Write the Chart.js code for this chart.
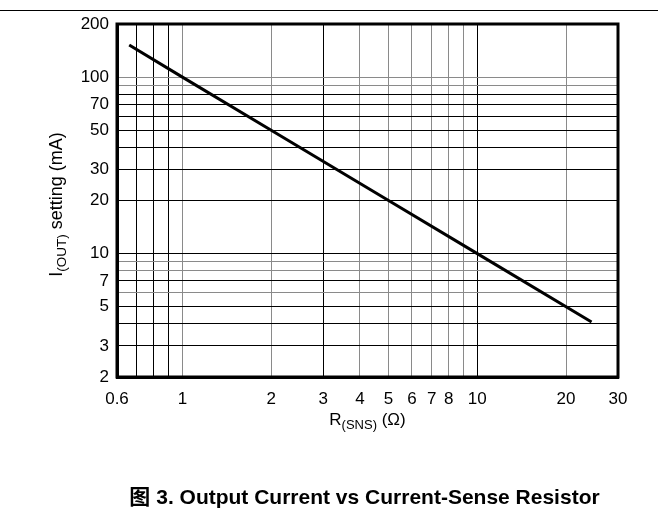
<!DOCTYPE html>
<html lang="zh">
<head>
    <meta charset="UTF-8">
    <title>Output Current vs Current-Sense Resistor</title>
    <script src="https://cdn.jsdelivr.net/npm/chart.js"></script>
    <style>
        html, body {
            margin: 0;
            padding: 0;
            background: #ffffff;
        }
        #wrap {
            width: 661px;
            height: 515px;
        }
    </style>
</head>
<body>
    <div id="wrap">
        <canvas id="currentChart" width="661" height="515"></canvas>
    </div>

    <script>
        // data: I(OUT) = f(R(SNS))
        const rSns = [0.66, 1, 2, 5, 10, 24.4];
        const iOut = [152, 100, 50, 20, 10, 4.1];

        // grid lines and labelled ticks
        const xGrid = [0.6, 0.7, 0.8, 0.9, 1, 2, 3, 4, 5, 6, 7, 8, 9, 10, 20, 30];
        const xLabels = [0.6, 1, 2, 3, 4, 5, 6, 7, 8, 10, 20, 30];
        const yGrid = [2, 3, 4, 5, 6, 7, 8, 9, 10, 20, 30, 40, 50, 60, 70, 80, 90, 100, 200];
        const yLabels = [2, 3, 5, 7, 10, 20, 30, 50, 70, 100, 200];

        // the scan shows some grid lines lighter than others
        const xGray = [1, 2, 4, 5, 6, 7, 8, 9, 20];
        const yGray = [6, 8, 9, 90, 100];

        const FONT = "'Liberation Sans', Arial, Helvetica, sans-serif";

        function gridColor(grayList) {
            return (ctx) => {
                const v = ctx.tick ? ctx.tick.value : null;
                return grayList.some(g => Math.abs(g - v) < 1e-6) ? '#8a8a8a' : '#000000';
            };
        }

        // text with a subscript, drawn on the canvas
        function drawSubText(ctx, parts, x, y, align) {
            let total = 0;
            parts.forEach(p => {
                ctx.font = p.font;
                p.w = ctx.measureText(p.text).width;
                total += p.w;
            });
            let cx = align === 'center' ? x - total / 2 : x;
            parts.forEach(p => {
                ctx.font = p.font;
                ctx.fillText(p.text, cx, y + (p.dy || 0));
                cx += p.w;
            });
        }

        // thick frame round the plot
        const frame = {
            id: 'frame',
            afterDatasetsDraw(chart) {
                const c = chart.ctx;
                const a = chart.chartArea;
                c.save();
                c.strokeStyle = '#000';
                c.lineWidth = 3;
                c.strokeRect(a.left, a.top, a.right - a.left, a.bottom - a.top);
                c.restore();
            }
        };

        // titles, caption and the page rule
        const extras = {
            id: 'extras',
            afterDraw(chart) {
                const ctx = chart.ctx;
                const area = chart.chartArea;
                const mid = (area.left + area.right) / 2;
                ctx.save();
                ctx.fillStyle = '#000';
                ctx.textAlign = 'left';
                ctx.textBaseline = 'alphabetic';

                ctx.strokeStyle = '#000';
                ctx.lineWidth = 1;
                ctx.beginPath();
                ctx.moveTo(0, 10.5);
                ctx.lineTo(658, 10.5);
                ctx.stroke();

                // x title
                drawSubText(ctx, [
                    { text: 'R', font: '17px ' + FONT },
                    { text: '(SNS)', font: '13px ' + FONT, dy: 4 },
                    { text: ' (Ω)', font: '17px ' + FONT }
                ], mid, 425, 'center');

                // y title
                ctx.save();
                ctx.translate(62, (area.top + area.bottom) / 2 + 4);
                ctx.rotate(-Math.PI / 2);
                drawSubText(ctx, [
                    { text: 'I', font: '18px ' + FONT },
                    { text: '(OUT)', font: '13.5px ' + FONT, dy: 4 },
                    { text: ' setting (mA)', font: '18px ' + FONT }
                ], 0, 0, 'center');
                ctx.restore();

                // caption
                ctx.textAlign = 'center';
                ctx.font = "bold 21px 'Liberation Sans', Arial, 'Noto Sans CJK SC', sans-serif";
                ctx.fillText('图 3. Output Current vs Current-Sense Resistor', mid - 3, 504);
                ctx.restore();
            }
        };

        const ctx1 = document.getElementById('currentChart').getContext('2d');
        const currentChart = new Chart(ctx1, {
            type: 'line',
            data: {
                datasets: [{
                    label: 'I(OUT)',
                    data: rSns.map((r, i) => ({ x: r, y: iOut[i] })),
                    borderColor: '#000000',
                    borderWidth: 3,
                    pointRadius: 0,
                    fill: false,
                    tension: 0
                }]
            },
            options: {
                responsive: false,
                animation: false,
                layout: {
                    padding: { left: 0, right: 43, top: 24, bottom: 0 }
                },
                plugins: {
                    legend: { display: false },
                    tooltip: { enabled: false }
                },
                scales: {
                    x: {
                        type: 'logarithmic',
                        min: 0.6,
                        max: 30,
                        afterBuildTicks: (axis) => {
                            axis.ticks = xGrid.map(v => ({ value: v }));
                        },
                        afterFit: (axis) => { axis.height = 138; },
                        border: { display: true, color: '#000', width: 3 },
                        grid: {
                            color: gridColor(xGray),
                            lineWidth: 1,
                            drawTicks: false
                        },
                        ticks: {
                            autoSkip: false,
                            maxRotation: 0,
                            padding: 12,
                            color: '#000',
                            font: { family: FONT, size: 17 },
                            callback: (v) => xLabels.includes(v) ? String(v) : ''
                        }
                    },
                    y: {
                        type: 'logarithmic',
                        min: 2,
                        max: 200,
                        afterBuildTicks: (axis) => {
                            axis.ticks = yGrid.map(v => ({ value: v }));
                        },
                        afterFit: (axis) => { axis.width = 117; },
                        border: { display: true, color: '#000', width: 3 },
                        grid: {
                            color: gridColor(yGray),
                            lineWidth: 1,
                            drawTicks: false
                        },
                        ticks: {
                            autoSkip: false,
                            padding: 8,
                            color: '#000',
                            font: { family: FONT, size: 17 },
                            callback: (v) => yLabels.includes(v) ? String(v) : ''
                        }
                    }
                }
            },
            plugins: [frame, extras]
        });
    </script>
</body>
</html>
